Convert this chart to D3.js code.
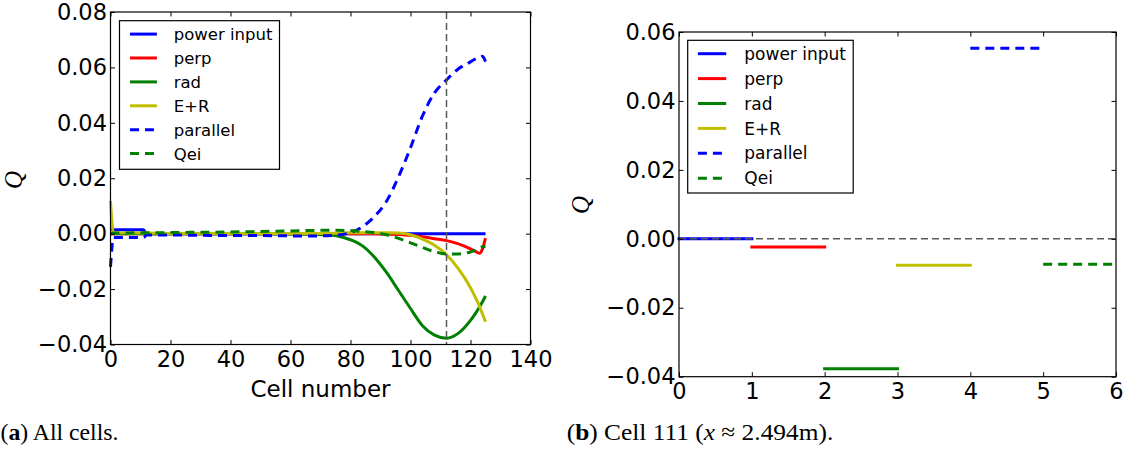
<!DOCTYPE html>
<html>
<head>
<meta charset="utf-8">
<script src="https://cdn.jsdelivr.net/npm/d3@7"></script>
<style>
  body { margin: 0; background: #fff; }
  svg text { fill: #000; }
</style>
</head>
<body>
<svg id="fig" width="1126" height="453"></svg>
<script>
// values, cell number vs Q
const cells      = [0, 1, 11, 12, 20, 30, 40, 50, 60, 70, 76, 80, 84, 88, 92, 96, 100, 104, 108, 112, 116, 120, 122, 123, 124, 125];
const powerInput = [0.0014, 0.0014, 0.0014, 0, 0, 0, 0, 0, 0, 0, 0, 0, 0, 0, 0, 0, 0, 0, 0, 0, 0, 0, 0, 0, 0, 0];
const perp       = [0, 0, 0, 0, 0, 0, 0, 0, 0, 0, 0, 0, 0, 0, -0.0001, -0.0003, -0.0006, -0.0011, -0.0018, -0.0025, -0.0037, -0.0055, -0.0066, -0.0071, -0.0055, -0.0016];
const rad        = [0, 0, 0, 0, 0, 0, 0, 0, -0.0001, -0.0003, -0.0009, -0.0022, -0.0044, -0.0085, -0.014, -0.0205, -0.027, -0.0332, -0.0366, -0.0377, -0.0359, -0.0313, -0.0282, -0.0265, -0.0246, -0.0225];
const eR         = [0.0118, 0.0003, 0.0002, 0.0002, 0.0001, 0.0001, 0.0001, 0.0001, 0.0001, 0.0001, 0.0002, 0.0003, 0.0003, 0.0003, 0.0003, 0.0002, -0.0004, -0.002, -0.0042, -0.0076, -0.0127, -0.0195, -0.0238, -0.0262, -0.029, -0.0318];
const parallel   = [-0.012, -0.0014, -0.0014, -0.0005, -0.0005, -0.0006, -0.0007, -0.0007, -0.0008, -0.0008, -0.0005, 0.0004, 0.0025, 0.0062, 0.0117, 0.0205, 0.031, 0.0425, 0.0508, 0.0555, 0.0595, 0.062, 0.0633, 0.0637, 0.064, 0.0621];
const qei        = [0, 0.0002, 0.0003, 0.0003, 0.0004, 0.0005, 0.0006, 0.0008, 0.001, 0.0012, 0.0012, 0.0011, 0.0008, 0.0004, -0.0004, -0.0017, -0.0033, -0.005, -0.0065, -0.0073, -0.0073, -0.0066, -0.0058, -0.0052, -0.0047, -0.0046];
const markedCell = 112;

// panel (b): one value per term at the marked cell
const termNames  = ["power input", "perp", "rad", "E+R", "parallel", "Qei"];
const termValues = [0, -0.0024, -0.0377, -0.0077, 0.0553, -0.0074];

const seriesNames  = ["power input", "perp", "rad", "E+R", "parallel", "Qei"];
const seriesColors = ["#0000ff", "#ff0000", "#008000", "#bfbf00", "#0000ff", "#008000"];
const seriesDashed = [false, false, false, false, true, true];
const seriesValues = [powerInput, perp, rad, eR, parallel, qei];

const leftXTicks  = [0, 20, 40, 60, 80, 100, 120, 140];
const leftYTicks  = [-0.04, -0.02, 0, 0.02, 0.04, 0.06, 0.08];
const rightXTicks = [0, 1, 2, 3, 4, 5, 6];
const rightYTicks = [-0.04, -0.02, 0, 0.02, 0.04, 0.06];

const svg = d3.select("#fig");
const tickFont = "DejaVu Sans";
const fmt = d3.format(".2f");
const dashPattern = "9,6";
const refDash = "7,4";

function drawFrame(g, x, y, xTicks, yTicks) {
  const [x0, x1] = x.range();
  const [y0, y1] = y.range();
  g.append("g")
    .attr("transform", `translate(0,${y0})`)
    .call(d3.axisBottom(x).tickValues(xTicks).tickFormat(d3.format("d")).tickSize(-4.5).tickSizeOuter(0).tickPadding(6.5))
    .call(a => a.select(".domain").remove());
  g.append("g")
    .attr("transform", `translate(0,${y1})`)
    .call(d3.axisTop(x).tickValues(xTicks).tickFormat("").tickSize(-4.5).tickSizeOuter(0))
    .call(a => a.select(".domain").remove());
  g.append("g")
    .attr("transform", `translate(${x0},0)`)
    .call(d3.axisLeft(y).tickValues(yTicks).tickFormat(fmt).tickSize(-4.5).tickSizeOuter(0).tickPadding(3.5))
    .call(a => a.select(".domain").remove());
  g.append("g")
    .attr("transform", `translate(${x1},0)`)
    .call(d3.axisRight(y).tickValues(yTicks).tickFormat("").tickSize(-4.5).tickSizeOuter(0))
    .call(a => a.select(".domain").remove());
  g.selectAll(".tick line").attr("stroke", "#000").attr("stroke-width", 1);
  g.selectAll(".tick text").attr("font-family", tickFont).attr("font-size", 22.5).attr("fill", "#000");
  g.append("rect")
    .attr("x", x0).attr("y", y1)
    .attr("width", x1 - x0).attr("height", y0 - y1)
    .attr("fill", "none").attr("stroke", "#000").attr("stroke-width", 1.2);
}

function drawLegend(g, left, top, width, height, rowGap, fontSize, lineX0, lineX1, textX) {
  const lg = g.append("g");
  lg.append("rect")
    .attr("x", left).attr("y", top).attr("width", width).attr("height", height)
    .attr("fill", "#fff").attr("stroke", "#000").attr("stroke-width", 1.2);
  seriesNames.forEach((name, i) => {
    const cy = top + 13.4 + i * rowGap;
    lg.append("line")
      .attr("x1", left + lineX0).attr("x2", left + lineX1)
      .attr("y1", cy).attr("y2", cy)
      .attr("stroke", seriesColors[i]).attr("stroke-width", 3)
      .attr("stroke-dasharray", seriesDashed[i] ? dashPattern : null);
    lg.append("text")
      .attr("x", left + textX).attr("y", cy)
      .attr("dy", "0.36em")
      .attr("font-family", tickFont).attr("font-size", fontSize)
      .text(name);
  });
}

function yLabel(g, cx, cy) {
  g.append("text")
    .attr("transform", `translate(${cx},${cy}) rotate(-90)`)
    .attr("text-anchor", "middle")
    .attr("dy", "0.3em")
    .attr("font-family", "Liberation Serif")
    .attr("font-style", "italic")
    .attr("font-size", 25)
    .text("Q");
}

// ---- panel (a)
const xa = d3.scaleLinear().domain([0, 140]).range([110.5, 530.5]);
const ya = d3.scaleLinear().domain([-0.04, 0.08]).range([344.5, 12]);
const ga = svg.append("g");

const line = d3.line()
  .x(d => xa(d[0]))
  .y(d => ya(d[1]))
  .curve(d3.curveMonotoneX);

seriesValues.forEach((vals, i) => {
  ga.append("path")
    .datum(cells.map((c, j) => [c, vals[j]]))
    .attr("d", line)
    .attr("fill", "none")
    .attr("stroke", seriesColors[i])
    .attr("stroke-width", 3)
    .attr("stroke-linejoin", "round")
    .attr("stroke-dasharray", seriesDashed[i] ? dashPattern : null);
});

ga.append("line")
  .attr("x1", xa(markedCell)).attr("x2", xa(markedCell))
  .attr("y1", ya(0.08)).attr("y2", ya(-0.04))
  .attr("stroke", "#5a5a5a").attr("stroke-width", 1.5)
  .attr("stroke-dasharray", refDash);

drawFrame(ga, xa, ya, leftXTicks, leftYTicks);
drawLegend(ga, 119.5, 20.7, 160, 148.6, 23.9, 16.5, 10.5, 37.4, 54.2);
yLabel(ga, 14, 180);

ga.append("text")
  .attr("x", (xa(0) + xa(140)) / 2).attr("y", 396.5)
  .attr("text-anchor", "middle")
  .attr("font-family", tickFont).attr("font-size", 23)
  .text("Cell number");

// ---- panel (b)
const xb = d3.scaleLinear().domain([0, 6]).range([679, 1116]);
const yb = d3.scaleLinear().domain([-0.04, 0.06]).range([376.7, 32]);
const gb = svg.append("g");

termValues.forEach((v, i) => {
  gb.append("line")
    .attr("x1", xb(i)).attr("x2", xb(i + 1))
    .attr("y1", yb(v)).attr("y2", yb(v))
    .attr("stroke", seriesColors[i])
    .attr("stroke-width", 3)
    .attr("stroke-linecap", seriesDashed[i] ? "butt" : "square")
    .attr("stroke-dasharray", seriesDashed[i] ? dashPattern : null)
    .append("title").text(termNames[i]);
});

gb.append("line")
  .attr("x1", xb(0)).attr("x2", xb(6))
  .attr("y1", yb(0)).attr("y2", yb(0))
  .attr("stroke", "#5a5a5a").attr("stroke-width", 1.5)
  .attr("stroke-dasharray", refDash);

drawFrame(gb, xb, yb, rightXTicks, rightYTicks);
drawLegend(gb, 687.7, 40.3, 165.5, 152.7, 24.9, 17, 10.2, 38.5, 56.6);
yLabel(gb, 581, 205);

// ---- captions
const capA = svg.append("text")
  .attr("x", 0.5).attr("y", 440)
  .attr("font-family", "Liberation Serif").attr("font-size", 24)
  .attr("textLength", 118).attr("lengthAdjust", "spacingAndGlyphs");
capA.append("tspan").text("(");
capA.append("tspan").attr("font-weight", "bold").text("a");
capA.append("tspan").text(") All cells.");

const capB = svg.append("text")
  .attr("x", 566.7).attr("y", 440)
  .attr("font-family", "Liberation Serif").attr("font-size", 24)
  .attr("textLength", 266.6).attr("lengthAdjust", "spacingAndGlyphs");
capB.append("tspan").text("(");
capB.append("tspan").attr("font-weight", "bold").text("b");
capB.append("tspan").text(") Cell 111 (");
capB.append("tspan").attr("font-style", "italic").text("x");
capB.append("tspan").text("  ≈  2.494m).");
</script>
</body>
</html>
